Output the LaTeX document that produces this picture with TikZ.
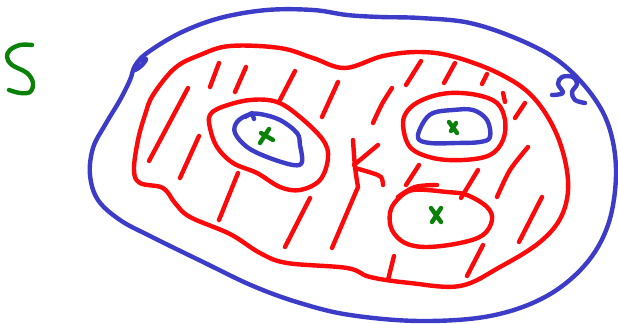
\documentclass[tikz,border=0pt]{standalone}
\begin{document}
\begin{tikzpicture}[x=0.75pt,y=-0.75pt,
  line cap=round, line join=round,
  pen/.style={line width=3.3pt},
  rpen/.style={pen, draw=penred},
  bpen/.style={pen, draw=penblue},
  gpen/.style={pen, draw=pengreen}]
\definecolor{penred}{RGB}{250,10,10}
\definecolor{penblue}{RGB}{60,60,200}
\definecolor{pengreen}{RGB}{10,130,10}
\useasboundingbox (0,0) rectangle (618,324);
\fill[white] (0,0) rectangle (618,324);
% letter S
\draw[gpen] plot[smooth, tension=0.6] coordinates {(32,45) (20,45) (10,50) (7,57) (12,65) (27,73) (33,83) (30,92) (20,93) (9,90)};
% Omega label
\draw[bpen] plot[smooth, tension=0.6] coordinates {(552,95) (563,93) (558,84) (562,77) (573,77) (577,84) (572,92) (575,100) (585,103)};
% outer blue domain
\draw[bpen] plot[smooth cycle, tension=0.6] coordinates {(135,66) (147,53) (180,33) (220,18) (267,10) (313,10) (347,15) (380,17) (420,18) (470,23) (520,40) (560,62) (592,95) (610,130) (616,175) (608,225) (585,265) (545,297) (490,316) (420,321) (350,315) (300,303) (253,286) (203,262) (150,236) (120,220) (98,200) (90,175) (93,148) (105,125) (120,100) (130,80)};
\draw[bpen] plot[smooth, tension=0.8] coordinates {(134,68) (140,60) (146,59) (141,66) (135,70)};
% outer red region
\draw[rpen] plot[smooth cycle, tension=0.6] coordinates {(153,95) (175,68) (200,55) (230,46) (280,48) (313,58) (345,68) (383,56) (420,52) (455,57) (500,74) (533,97) (557,135) (568,180) (562,215) (540,242) (500,267) (460,286) (410,283) (370,277) (347,268) (287,263) (260,253) (230,234) (190,217) (175,203) (163,188) (140,183) (134,170) (138,140) (145,115)};
% left hole
\draw[rpen] plot[smooth cycle, tension=0.6] coordinates {(210,115) (222,107) (250,100) (277,102) (300,117) (323,140) (328,158) (320,180) (300,190) (280,187) (257,173) (233,163) (217,147) (210,128)};
\draw[bpen] plot[smooth cycle, tension=0.6] coordinates {(237,122) (248,115) (260,114) (280,120) (297,133) (300,145) (302,162) (293,165) (267,157) (247,147) (235,133)};
\draw[bpen] (245,117) -- (252,113) -- (254,119);
% right hole
\draw[rpen] plot[smooth cycle, tension=0.6] coordinates {(403,123) (410,108) (427,98) (450,93) (477,95) (497,103) (505,120) (503,140) (490,155) (463,160) (433,158) (410,147)};
\draw[bpen] plot[smooth cycle, tension=0.6] coordinates {(423,123) (433,113) (453,110) (473,110) (487,120) (490,137) (480,142) (457,143) (430,143) (418,138)};
% bottom hole
\draw[rpen] plot[smooth cycle, tension=0.6] coordinates {(397,200) (413,190) (447,192) (467,195) (487,207) (492,220) (483,235) (460,243) (427,247) (405,243) (392,230) (390,213)};
\draw[rpen] plot[smooth, tension=0.6] coordinates {(398,197) (415,187) (437,185)};
% crosses
\draw[gpen] (260,143) -- (269,129) (261,133) -- (273,140);
\draw[gpen] (449,122) -- (457,133) (456,123) -- (451,131);
\draw[gpen] (431,208) -- (441,222) (441,208) -- (432,222);
% hatching
\draw[rpen] (219,63) -- (210,87);
\draw[rpen] (246,67) -- (235,92);
\draw[rpen] (295,71) -- (280,100);
\draw[rpen] (188,88) -- (149,161);
\draw[rpen] (199,136) -- (180,178);
\draw[rpen] (238,173) -- (219,220);
\draw[rpen] (310,198) -- (285,247);
\draw[rpen] (338,82) -- (322,117);
\draw[rpen] (421,61) -- (406,85);
\draw[rpen] (455,63) -- (444,83);
\draw[rpen] (487,74) -- (482,84);
\draw[rpen] plot[smooth] coordinates {(392,88) (382,104) (373,123)};
\draw[rpen] (419,165) -- (406,185);
\draw[rpen] (478,170) -- (461,198);
\draw[rpen] (503,93) -- (505,102);
\draw[rpen] (525,103) -- (515,118);
\draw[rpen] plot[smooth] coordinates {(528,147) (510,170) (497,197)};
\draw[rpen] (542,197) -- (519,242);
\draw[rpen] (483,245) -- (467,276);
\draw[rpen] (394,256) -- (388,280);
% K-shaped stroke
\draw[rpen] plot[smooth, tension=0.5] coordinates {(353,140) (355,167) (358,187)} -- (332,248);
\draw[rpen] (378,145) -- (354,165);
\draw[rpen] plot[smooth, tension=0.6] coordinates {(355,168) (372,173) (381,177) (383,185)};
\end{tikzpicture}
\end{document}
